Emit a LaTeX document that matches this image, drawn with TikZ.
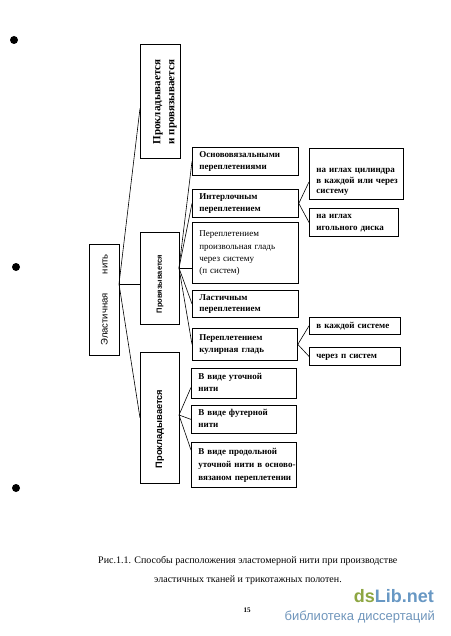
\documentclass[tikz,border=0pt]{standalone}
\usepackage{fontspec}
\setmainfont{Liberation Serif}
\setsansfont{Liberation Sans}
\usetikzlibrary{calc}
\definecolor{wmgreen}{RGB}{141,166,66}
\definecolor{wmblue}{RGB}{104,152,196}
\definecolor{wmgray}{RGB}{112,150,188}
\newcommand\boxlines[1]{\begin{tabular}{@{}l@{}}#1\end{tabular}}
\begin{document}
\begin{tikzpicture}[x=1pt,y=-1pt,
  frame/.style={draw, line width=0.8pt, inner sep=0pt, anchor=north west},
  box/.style={draw, line width=0.8pt, anchor=north west, inner xsep=7pt, inner ysep=1pt,
    align=left, font=\bfseries\fontsize{9}{11.5}\selectfont},
  vlabel/.style={rotate=90, inner sep=0pt},
  link/.style={line width=0.6pt},
  hole/.style={fill=black}]
\useasboundingbox (0,0) rectangle (450,636);
\fill[white] (0,0) rectangle (450,636);

% punch holes
\fill[hole] (14,40) circle[radius=4pt];
\fill[hole] (16,267) circle[radius=4pt];
\fill[hole] (16,488) circle[radius=4pt];

% root
\node[frame, minimum width=30pt, minimum height=111pt] (root) at (89,244) {};
\node[vlabel, font=\sffamily\fontsize{9.5}{11}\selectfont] (roottxt) at (root.center) {Эластичная\hspace{19pt}нить};

% level 1
\node[frame, minimum width=40pt, minimum height=114pt] (b1) at (140,44) {};
\node[vlabel, align=center, font=\bfseries\fontsize{11}{14}\selectfont] (b1txt) at (165,102) {Прокладывается\\и провязывается};
\node[frame, minimum width=39pt, minimum height=92pt] (b2) at (140,232) {};
\node[vlabel, font=\sffamily\bfseries\fontsize{7.5}{9}\selectfont] (b2txt) at (160,284) {Провязывается};
\node[frame, minimum width=39pt, minimum height=131pt] (b3) at (140,352) {};
\node[vlabel, font=\sffamily\bfseries\fontsize{9.3}{11}\selectfont] (b3txt) at (160,429) {Прокладывается};

% level 2
\node[box, minimum width=106pt, text width=92pt, minimum height=28pt] (c1) at (192,147) {\boxlines{Основовязальными\\переплетениями}};
\node[box, minimum width=106pt, text width=92pt, minimum height=28pt] (c2) at (192,189) {\boxlines{Интерлочным\\переплетением}};
\node[box, minimum width=106pt, text width=92pt, minimum height=61pt, font=\fontsize{9}{12.3}\selectfont] (c3) at (192,222) {\boxlines{Переплетением\\произвольная гладь\\через систему\\(п систем)}};
\node[box, minimum width=106pt, text width=92pt, minimum height=27pt] (c4) at (192,290) {\boxlines{Ластичным\\переплетением}};
\node[box, minimum width=105pt, text width=91pt, minimum height=32pt] (c5) at (192,328) {\boxlines{Переплетением\\кулирная гладь}};
\node[box, minimum width=105pt, text width=91pt, minimum height=30pt] (d1) at (191,368) {\boxlines{В виде уточной\\нити}};
\node[box, minimum width=105pt, text width=91pt, minimum height=28pt] (d2) at (191,405) {\boxlines{В виде футерной\\нити}};
\node[box, minimum width=105pt, text width=91pt, minimum height=45pt, font=\bfseries\fontsize{9}{13}\selectfont] (d3) at (191,442) {\boxlines{В виде продольной\\уточной нити в осново-\\вязаном переплетении}};

% level 3
\node[box, minimum width=94pt, text width=80pt, minimum height=51pt, font=\bfseries\fontsize{9}{10.5}\selectfont] (e1) at (309,148) {\boxlines{\rule{0pt}{22pt}на иглах цилиндра\\в каждой или через\\систему}};
\node[box, minimum width=89pt, text width=75pt, minimum height=28pt] (e2) at (309,208) {\boxlines{на иглах\\игольного диска}};
\node[box, minimum width=91pt, text width=77pt, minimum height=17pt] (f1) at (309,317) {\boxlines{в каждой системе}};
\node[box, minimum width=91pt, text width=77pt, minimum height=18pt] (f2) at (309,347) {\boxlines{через п систем}};

% connectors
\coordinate (rootp) at (119,284);
\draw[link] (rootp) -- ([yshift=-7pt]b1.west);
\draw[link] (rootp) -- (rootp -| b2.west);
\draw[link] (rootp) -- (b3.west);

\coordinate (b2p) at (179,268);
\draw[link] (b2p) -- (c1.west);
\draw[link] (b2p) -- (c2.west);
\draw[link] (b2p) -- (b2p -| c3.west);
\draw[link] (b2p) -- (c4.west);
\draw[link] (b2p) -- (c5.west);

\coordinate (b3p) at (179,415);
\draw[link] (b3p) -- ([yshift=-4pt]d1.west);
\draw[link] (b3p) -- (d2.west);
\draw[link] (b3p) -- ([yshift=-8pt]d3.north west);

\draw[link] (c2.east) -- ([yshift=-8pt]e1.west);
\draw[link] (c2.east) -- (e2.west);
\draw[link] (c5.east) -- (f1.west);
\draw[link] (c5.east) -- (f2.west);

% caption
\node[anchor=base west, inner sep=0pt, font=\fontsize{10}{12}\selectfont] (cap1) at (98,563) {Рис.1.1. Способы расположения эластомерной нити при производстве};
\node[anchor=base, inner sep=0pt, font=\fontsize{10}{12}\selectfont] (cap2) at (248,582) {эластичных тканей и трикотажных полотен.};
\node[inner sep=0pt, font=\bfseries\fontsize{7}{8}\selectfont] (pg) at (247,610) {15};

% watermark
\node[anchor=base east, inner sep=0pt, font=\sffamily\bfseries\fontsize{18}{18}\selectfont] (wm1) at (434,602) {\textcolor{wmgreen}{ds}\textcolor{wmblue}{Lib.net}};
\node[anchor=base east, inner sep=0pt, font=\sffamily\fontsize{13}{13}\selectfont, text=wmgray] (wm2) at (435,620) {библиотека диссертаций};
\end{tikzpicture}
\end{document}
